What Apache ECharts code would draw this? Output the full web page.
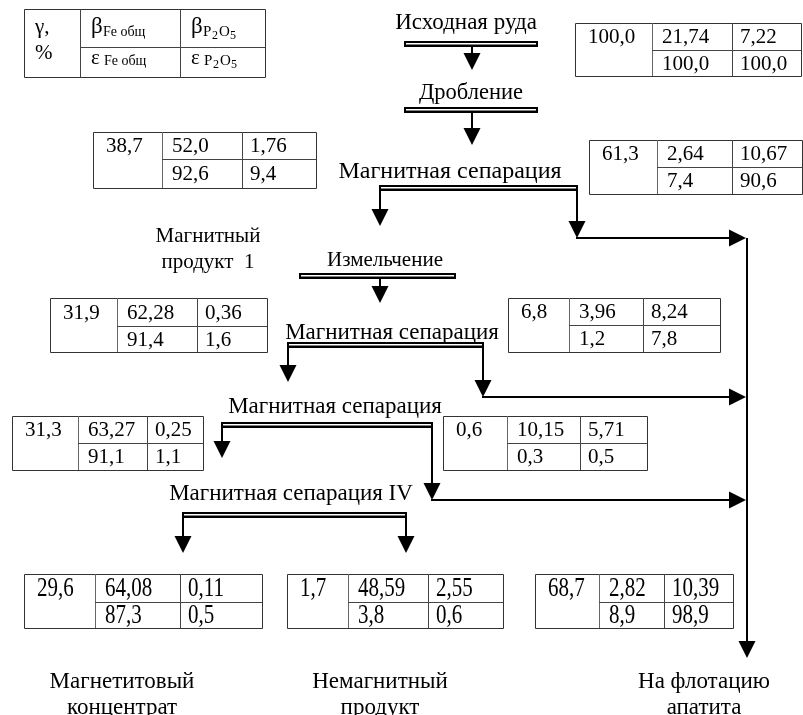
<!DOCTYPE html>
<html><head><meta charset="utf-8">
<script src="https://cdn.jsdelivr.net/npm/echarts@6/dist/echarts.min.js"></script>
<style>html,body{margin:0;padding:0;background:#fff}#c{width:803px;height:715px}</style>
</head><body><div id="c"></div>
<script>
// ---------- data ----------
const gamma    = ['100,0','38,7','61,3','31,9','6,8','31,3','0,6','29,6','1,7','68,7'];
const betaFe   = ['21,74','52,0','2,64','62,28','3,96','63,27','10,15','64,08','48,59','2,82'];
const betaP2O5 = ['7,22','1,76','10,67','0,36','8,24','0,25','5,71','0,11','2,55','10,39'];
const epsFe    = ['100,0','92,6','7,4','91,4','1,2','91,1','0,3','87,3','3,8','8,9'];
const epsP2O5  = ['100,0','9,4','90,6','1,6','7,8','1,1','0,5','0,5','0,6','98,9'];
const stageNames = ['Исходная руда','Дробление','Магнитная сепарация','Измельчение',
                    'Магнитная сепарация','Магнитная сепарация','Магнитная сепарация IV'];
const productNames = [['Магнитный','продукт  1'],['Магнетитовый','концентрат'],
                      ['Немагнитный','продукт'],['На флотацию','апатита']];

// ---------- layout (diagram units = pixels of the canvas) ----------
const tableBox = [ // x0,y0,x1,y1,colA,colB,rowY,textScaleY
 [575,23,801,76,652,732,50,1],
 [93,132,316,188,162,242,159,1],
 [589,140,802,194,657,732,167,1],
 [50,298,267,352,117,197,326,1],
 [508,298,720,352,569,643,325,1],
 [12,416,203,470,78,147,443,1],
 [443,416,647,470,507,580,443,1],
 [24,574,262,628,95,180,602,1.25],
 [287,574,503,628,348,428,602,1.25],
 [535,574,733,628,599,664,602,1.25]
];
const legendBox = [24,9,265,77,80,180,47];
const stageBox = [ // text cx, cy, bar x0, x1, bar y, font size
 [466,23,405,537,41,23],
 [471,93,405,537,107,22.5],
 [450,172,380,577,185,24],
 [385,260,300,455,273,21],
 [392,333,288,483,342,23],
 [335,407,222,432,422,23],
 [291,494,183,406,512,23]
];
const vArrows = [ // x, yStart, yTip, head
 [472,47,70,1],[472,113,145,1],[380,191,226,1],[577,191,238,1],[380,279,303,1],
 [288,348,382,1],[483,348,397,1],[222,428,458,1],[432,428,500,1],
 [183,518,553,1],[406,518,553,1],[747,238,658,1]
];
const hArrows = [[238,577,746],[397,483,746],[500,432,746]]; // y, xStart, xTip
const productPos = [[208,236,262,21],[122,682,708,23],[380,682,708,23],[704,682,708,23]];

const FONT = '"Liberation Serif","Times New Roman",serif';
const SZ = 21;

function txt(api, x, y, s, opt) {
  const p = api.coord([x, y]);
  opt = opt || {};
  return {type:'text', x:p[0], y:p[1], scaleY:opt.sy||1, silent:true,
    style:{text:s, fill:'#000', font:(opt.size||SZ)+'px '+FONT,
      align:opt.align||'left', verticalAlign:'middle'}};
}
function ln(api, x0,y0,x1,y1,w,c){
  const a=api.coord([x0,y0]), b=api.coord([x1,y1]);
  return {type:'line', silent:true, shape:{x1:a[0],y1:a[1],x2:b[0],y2:b[1]},
    style:{stroke:c||'#000', lineWidth:w||1}};
}
function rc(api,x0,y0,x1,y1,fill,stroke){
  const a=api.coord([x0,y0]), b=api.coord([x1,y1]);
  return {type:'rect', silent:true, shape:{x:a[0],y:a[1],width:b[0]-a[0],height:b[1]-a[1]},
    style:{fill:fill||'none', stroke:stroke||null, lineWidth:1}};
}
function poly(api, pts){
  return {type:'polygon', silent:true, shape:{points:pts.map(p=>api.coord(p))}, style:{fill:'#000'}};
}

function tableItem(params, api) {
  const i = params.dataIndex;
  const [x0,y0,x1,y1,ca,cb,ry,sy] = tableBox[i];
  const r1 = (y0+ry)/2+1, r2 = (ry+y1)/2+1;
  const o = {sy:sy};
  return {type:'group', children:[
    rc(api,x0+0.5,y0+0.5,x1+0.5,y1+0.5,'#fff','#333'),
    ln(api,ca+0.5,y0,ca+0.5,y1,1,'#666'),
    ln(api,cb+0.5,y0,cb+0.5,y1,1,'#444'),
    ln(api,ca,ry+0.5,x1,ry+0.5,1,'#444'),
    txt(api,x0+13,r1,gamma[i],o),
    txt(api,ca+10,r1,betaFe[i],o),
    txt(api,cb+8,r1,betaP2O5[i],o),
    txt(api,ca+10,r2,epsFe[i],o),
    txt(api,cb+8,r2,epsP2O5[i],o)
  ]};
}

function legendItem(params, api) {
  const [x0,y0,x1,y1,ca,cb,ry] = legendBox;
  return {type:'group', children:[
    rc(api,x0+0.5,y0+0.5,x1+0.5,y1+0.5,'#fff','#333'),
    ln(api,ca+0.5,y0,ca+0.5,y1,1,'#444'),
    ln(api,cb+0.5,y0,cb+0.5,y1,1,'#444'),
    ln(api,ca,ry+0.5,x1,ry+0.5,1,'#444'),
    txt(api,35,27,'γ,'),
    txt(api,35,53,'%'),
    txt(api,91,27,'β',{size:23}),
    txt(api,103,32,'Fe общ',{size:14}),
    txt(api,191,27,'β',{size:23}),
    txt(api,203,32,'P',{size:15}),
    txt(api,212,36,'2',{size:12}),
    txt(api,219,32,'O',{size:15}),
    txt(api,230,36,'5',{size:12}),
    txt(api,91,58,'ε',{size:21}),
    txt(api,104,61,'Fe общ',{size:14}),
    txt(api,191,58,'ε',{size:21}),
    txt(api,204,61,'P',{size:15}),
    txt(api,213,65,'2',{size:12}),
    txt(api,220,61,'O',{size:15}),
    txt(api,231,65,'5',{size:12})
  ]};
}

function stageItem(params, api) {
  const i = params.dataIndex;
  const [cx,cy,bx0,bx1,by,fs] = stageBox[i];
  return {type:'group', children:[
    txt(api,cx,cy,stageNames[i],{align:'center',size:fs}),
    rc(api,bx0-1,by,bx1+1,by+6,'#000'),
    rc(api,bx0+1,by+2,bx1-1,by+3.5,'#fff')
  ]};
}

function vArrowItem(params, api) {
  const [x,ys,yt,h] = vArrows[params.dataIndex];
  const ch = [ln(api,x,ys,x,yt-4,2)];
  if (h) ch.push(poly(api,[[x-8.5,yt-17],[x+8.5,yt-17],[x,yt]]));
  return {type:'group', children:ch};
}
function hArrowItem(params, api) {
  const [y,xs,xt] = hArrows[params.dataIndex];
  return {type:'group', children:[
    ln(api,xs-1,y,xt-4,y,2),
    poly(api,[[xt-17,y-8.5],[xt-17,y+8.5],[xt,y]])
  ]};
}
function productItem(params, api) {
  const i = params.dataIndex;
  const [cx,y1,y2,fs] = productPos[i];
  return {type:'group', children:[
    txt(api,cx,y1,productNames[i][0],{align:'center',size:fs}),
    txt(api,cx,y2,productNames[i][1],{align:'center',size:fs})
  ]};
}

const idx = n => Array.from({length:n},(_, k)=>[k]);
const chart = echarts.init(document.getElementById('c'), null, {renderer:'canvas'});
chart.setOption({
  animation:false,
  backgroundColor:'#fff',
  grid:{left:0,right:0,top:0,bottom:0},
  xAxis:{type:'value',min:0,max:803,show:false},
  yAxis:{type:'value',min:0,max:715,inverse:true,show:false},
  series:[
    {type:'custom',clip:false,renderItem:vArrowItem,data:idx(vArrows.length)},
    {type:'custom',clip:false,renderItem:hArrowItem,data:idx(hArrows.length)},
    {type:'custom',clip:false,renderItem:stageItem,data:idx(stageNames.length)},
    {type:'custom',clip:false,renderItem:tableItem,data:idx(gamma.length)},
    {type:'custom',clip:false,renderItem:legendItem,data:[[0]]},
    {type:'custom',clip:false,renderItem:productItem,data:idx(productNames.length)}
  ]
});
</script></body></html>
